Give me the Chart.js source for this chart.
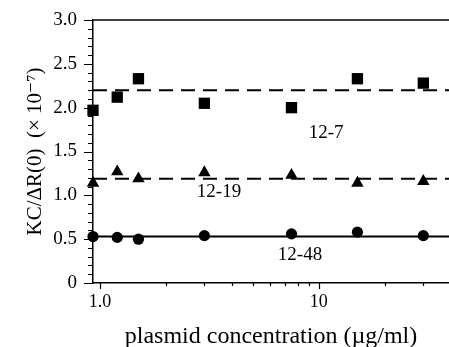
<!DOCTYPE html>
<html>
<head>
<meta charset="utf-8">
<script src="https://cdn.jsdelivr.net/npm/chart.js@4/dist/chart.umd.min.js"></script>
<style>
  html, body { margin: 0; padding: 0; background: #fff; }
  #wrap { width: 449px; height: 347px; }
</style>
</head>
<body>
<div id="wrap"><canvas id="chart"></canvas></div>
<script>
// === DATA ===
const conc = [0.93, 1.2, 1.5, 3, 7.5, 15, 30];           // plasmid concentration (ug/ml)
const kc127 = [1.97, 2.12, 2.33, 2.05, 2.00, 2.33, 2.28];
const kc1219 = [1.14, 1.27, 1.19, 1.26, 1.23, 1.14, 1.16];
const kc1248 = [0.53, 0.52, 0.50, 0.54, 0.56, 0.58, 0.54];
const fitLevels = [2.2, 1.19, 0.53];                      // horizontal fit lines
const seriesNames = ["12-7", "12-19", "12-48"];
const labelX = [10.8, 3.5, 8.2];                          // where the series names sit
const labelY = [1.71, 1.04, 0.32];
const xRange = [0.93, 39.3];
const xTickVals = [1, 2, 3, 4, 5, 6, 7, 8, 9, 10, 20, 30];
const xTickLabels = { 1: "1.0", 10: "10" };
const yRange = [0, 3];

const FONT = "'Liberation Serif', 'DejaVu Serif', serif";

const toPts = ys => conc.map((x, i) => ({ x: x, y: ys[i] }));
const flat = v => [{ x: xRange[0], y: v }, { x: xRange[1], y: v }];

// === ticks, top border, series names ===
const decor = {
  id: "decor",
  afterDraw(chart) {
    const { ctx, chartArea: a, scales: { x, y } } = chart;
    ctx.save();
    ctx.strokeStyle = "#000";
    ctx.lineWidth = 1.5;
    ctx.beginPath();
    ctx.moveTo(a.left, a.top);
    ctx.lineTo(a.right, a.top);
    ctx.stroke();

    ctx.lineWidth = 1.2;
    ctx.beginPath();
    for (let i = 0; i <= 30; i++) {
      const py = Math.round(y.getPixelForValue(i / 10)) + 0.5;
      const len = i % 5 === 0 ? 9 : 5;
      ctx.moveTo(a.left - len, py);
      ctx.lineTo(a.left, py);
    }
    xTickVals.forEach(v => {
      const px = Math.round(x.getPixelForValue(v)) + 0.5;
      const len = xTickLabels[v] ? 6 : 3;
      ctx.moveTo(px, a.bottom);
      ctx.lineTo(px, a.bottom + len);
    });
    ctx.stroke();

    ctx.fillStyle = "#000";
    ctx.font = "19px " + FONT;
    ctx.textAlign = "center";
    ctx.textBaseline = "middle";
    seriesNames.forEach((n, i) => {
      ctx.fillText(n, x.getPixelForValue(labelX[i]), y.getPixelForValue(labelY[i]));
    });
    ctx.restore();
  }
};

// invisible grid ticks only push the labels away from the axis
const hiddenGrid = len => ({ display: true, drawOnChartArea: false, drawTicks: true, tickLength: len, color: "rgba(0,0,0,0)" });

new Chart(document.getElementById("chart"), {
  type: "scatter",
  data: {
    datasets: [
      { data: toPts(kc127), pointStyle: "rect", pointRadius: 8, backgroundColor: "#000", borderColor: "#000", borderWidth: 0, clip: false },
      { data: toPts(kc1219), pointStyle: "triangle", pointRadius: 7.2, backgroundColor: "#000", borderColor: "#000", borderWidth: 0, clip: false },
      { data: toPts(kc1248), pointStyle: "circle", pointRadius: 5.6, backgroundColor: "#000", borderColor: "#000", borderWidth: 0, clip: false },
      { type: "line", data: flat(fitLevels[0]), borderColor: "#000", borderWidth: 2, borderDash: [14, 8], pointRadius: 0 },
      { type: "line", data: flat(fitLevels[1]), borderColor: "#000", borderWidth: 2, borderDash: [14, 8], pointRadius: 0 },
      { type: "line", data: flat(fitLevels[2]), borderColor: "#000", borderWidth: 2, pointRadius: 0 }
    ]
  },
  options: {
    responsive: true,
    maintainAspectRatio: false,
    animation: false,
    layout: { autoPadding: false, padding: { top: 20, right: 0, left: 0, bottom: 0 } },
    plugins: { legend: { display: false }, tooltip: { enabled: false } },
    scales: {
      x: {
        type: "logarithmic",
        min: xRange[0],
        max: xRange[1],
        afterBuildTicks: s => { s.ticks = xTickVals.map(v => ({ value: v })); },
        afterFit: s => { s.height = 64; },
        grid: hiddenGrid(8),
        border: { display: true, color: "#000", width: 1.5 },
        ticks: {
          autoSkip: false,
          maxRotation: 0,
          padding: 0,
          color: "#000",
          font: { family: FONT, size: 18 },
          callback: v => xTickLabels[v] || ""
        },
        title: {
          display: true,
          text: "plasmid concentration (\u00b5g/ml)",
          color: "#000",
          font: { family: FONT, size: 24 },
          padding: { top: 0, bottom: -4 }
        }
      },
      y: {
        min: yRange[0],
        max: yRange[1],
        afterBuildTicks: s => { s.ticks = [0, 0.5, 1, 1.5, 2, 2.5, 3].map(v => ({ value: v })); },
        afterFit: s => { s.width = 93; },
        grid: hiddenGrid(16),
        border: { display: true, color: "#000", width: 1.5 },
        ticks: {
          padding: 0,
          color: "#000",
          font: { family: FONT, size: 19 },
          callback: v => v === 0 ? "0" : v.toFixed(1)
        },
        title: {
          display: true,
          text: "KC/\u0394R(0)  (\u00d7 10\u207b\u2077)",
          color: "#000",
          font: { family: FONT, size: 21 },
          padding: { top: 23, bottom: 0 }
        }
      }
    }
  },
  plugins: [decor]
});
</script>
</body>
</html>
